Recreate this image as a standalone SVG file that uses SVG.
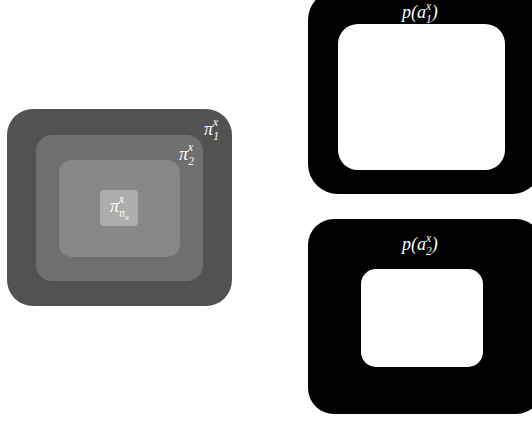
<svg xmlns="http://www.w3.org/2000/svg" width="532" height="423" viewBox="0 0 532 423">
  <style>
    .lbl { font-family: "Liberation Serif", "DejaVu Serif", serif; font-style: italic; fill: #ffffff; }
    .m { font-size: 18px; }
    .s { font-size: 11.5px; }
    .ss { font-size: 9px; }
  </style>
  <rect width="532" height="423" fill="#ffffff"/>
  <!-- nested partition boxes -->
  <g id="pi1">
    <rect x="7" y="109" width="225" height="197" rx="26" fill="#525252"/>
    <text class="lbl" x="204" y="135"><tspan class="m">π</tspan><tspan class="s" dy="-9">x</tspan><tspan class="s" dx="-5" dy="14">1</tspan></text>
  </g>
  <g id="pi2">
    <rect x="36" y="135" width="167" height="146" rx="16" fill="#6f6f6f"/>
    <text class="lbl" x="179" y="160"><tspan class="m">π</tspan><tspan class="s" dy="-9">x</tspan><tspan class="s" dx="-5" dy="14">2</tspan></text>
  </g>
  <g id="pi3">
    <rect x="59" y="160" width="121" height="97" rx="13" fill="#878787"/>
  </g>
  <g id="pinx">
    <rect x="100" y="190" width="38" height="36" rx="4" fill="#adadad"/>
    <text class="lbl" x="110" y="212"><tspan class="m">π</tspan><tspan class="s" dy="-9">x</tspan><tspan class="s" dx="-5" dy="14">n</tspan><tspan class="ss" dy="3">x</tspan></text>
  </g>
  <!-- probability frames -->
  <g id="pa1">
    <rect x="308" y="-10" width="234" height="204" rx="30" fill="#000000"/>
    <rect x="338" y="24" width="167" height="146" rx="20" fill="#ffffff"/>
    <text class="lbl" x="402" y="18"><tspan class="m">p(a</tspan><tspan class="s" dy="-8">x</tspan><tspan class="s" dx="-5" dy="13">1</tspan><tspan class="m" dy="-5">)</tspan></text>
  </g>
  <g id="pa2">
    <rect x="308" y="219" width="234" height="195" rx="26" fill="#000000"/>
    <rect x="361" y="269" width="122" height="98" rx="15" fill="#ffffff"/>
    <text class="lbl" x="402" y="250"><tspan class="m">p(a</tspan><tspan class="s" dy="-8">x</tspan><tspan class="s" dx="-5" dy="13">2</tspan><tspan class="m" dy="-5">)</tspan></text>
  </g>
  <g id="connectors"/>
</svg>
